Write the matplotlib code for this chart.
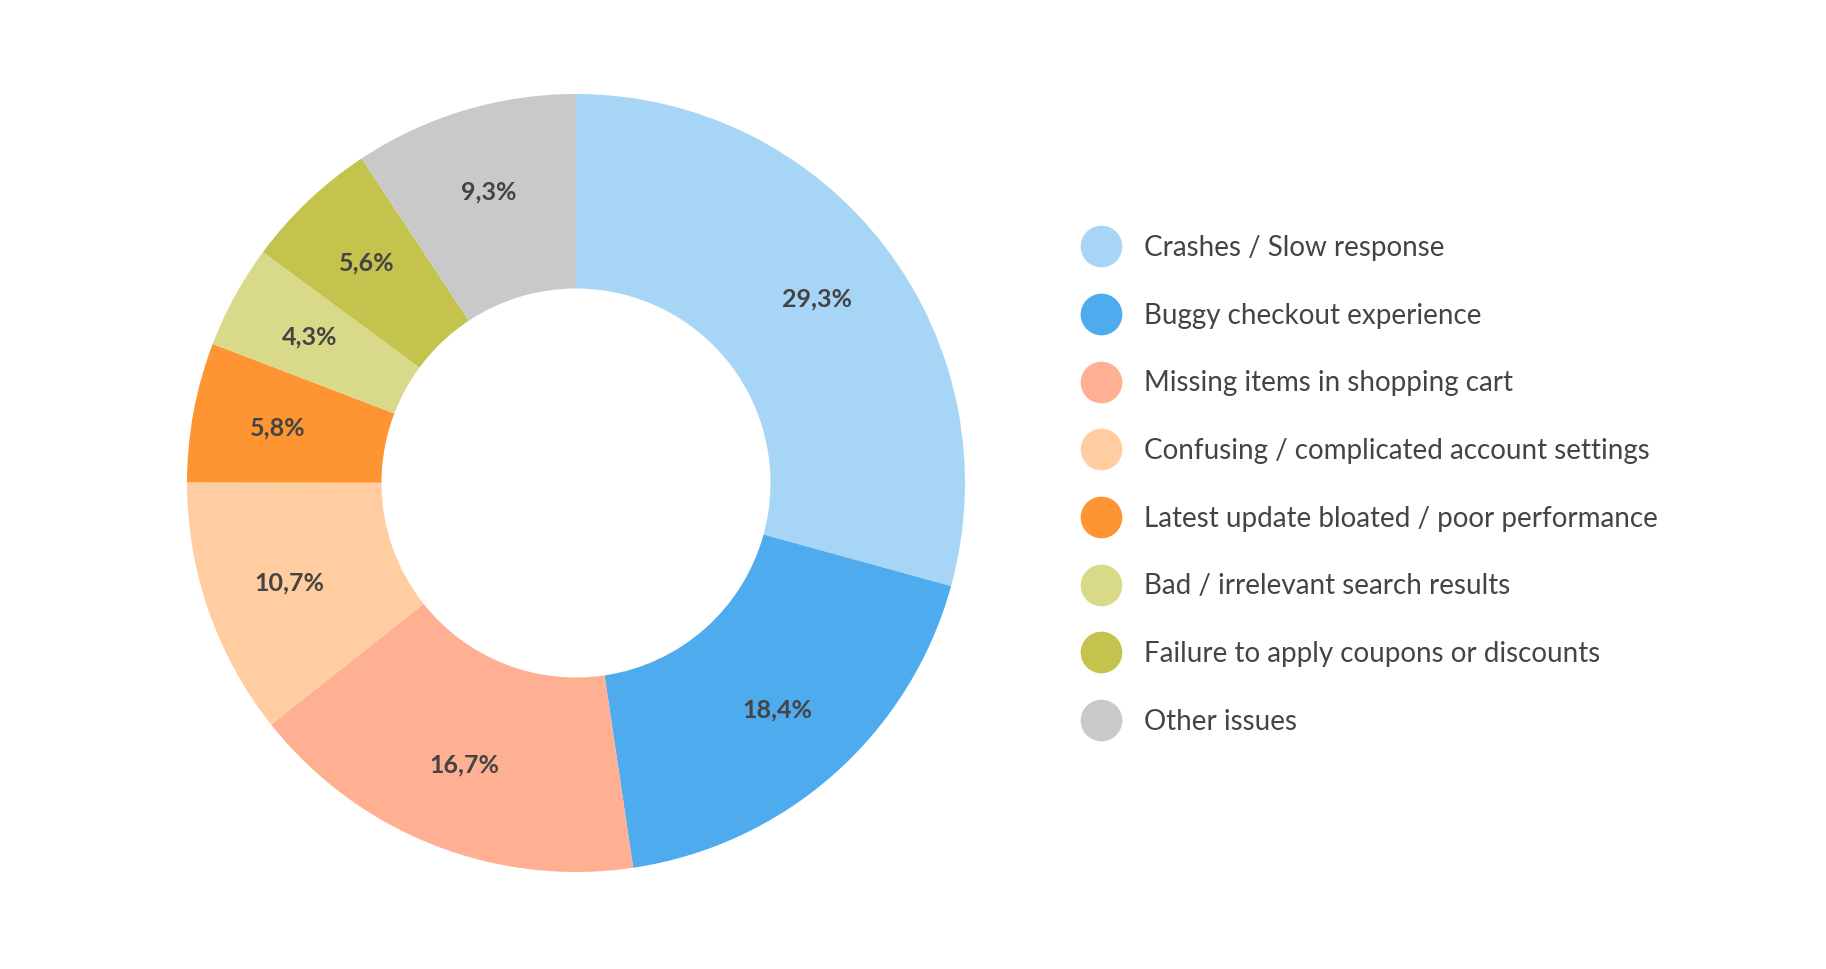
import matplotlib
matplotlib.use("Agg")
import matplotlib.pyplot as plt
from matplotlib.lines import Line2D

plt.rcParams['font.family'] = ['Lato', 'DejaVu Sans']

# data
categories = ["Crashes / Slow response", "Buggy checkout experience",
              "Missing items in shopping cart", "Confusing / complicated account settings",
              "Latest update bloated / poor performance", "Bad / irrelevant search results",
              "Failure to apply coupons or discounts", "Other issues"]
values = [29.3, 18.4, 16.7, 10.7, 5.8, 4.3, 5.6, 9.3]
colors = ["#a6d5f6", "#4dabee", "#ffaf92", "#ffcda0", "#ff9433", "#d8da8a", "#c3c34d", "#c9c9c9"]

W, H = 1826, 969
fig = plt.figure(figsize=(W / 100, H / 100), dpi=100)

# donut axes: center (576, 483) px, outer radius ~389 px
r = 389
ax = fig.add_axes([(576 - r) / W, (H - 483 - r) / H, 2 * r / W, 2 * r / H])
wedges, texts, autotexts = ax.pie(
    values, colors=colors, startangle=90, counterclock=False, radius=1,
    wedgeprops=dict(width=0.5, linewidth=0),
    autopct=lambda p: f"{p:.1f}".replace(".", ",") + "%", pctdistance=0.78,
    textprops=dict(color="#444444", fontsize=18, fontweight="bold"))
ax.set_xlim(-1, 1)
ax.set_ylim(-1, 1)
ax.set_aspect("equal")
ax.axis("off")

# legend
handles = [Line2D([], [], linestyle="none", marker="o", markersize=30,
                  markerfacecolor=c, markeredgewidth=0) for c in colors]
leg = fig.legend(handles, categories, loc="upper left",
                 bbox_to_anchor=(1068 / W, 1 - 224 / H), frameon=False,
                 fontsize=20, labelspacing=1.5, handletextpad=0.75,
                 handlelength=1.6, borderaxespad=0)
for t in leg.get_texts():
    t.set_color("#444444")

fig.savefig("out.png", dpi=100, facecolor="white")
